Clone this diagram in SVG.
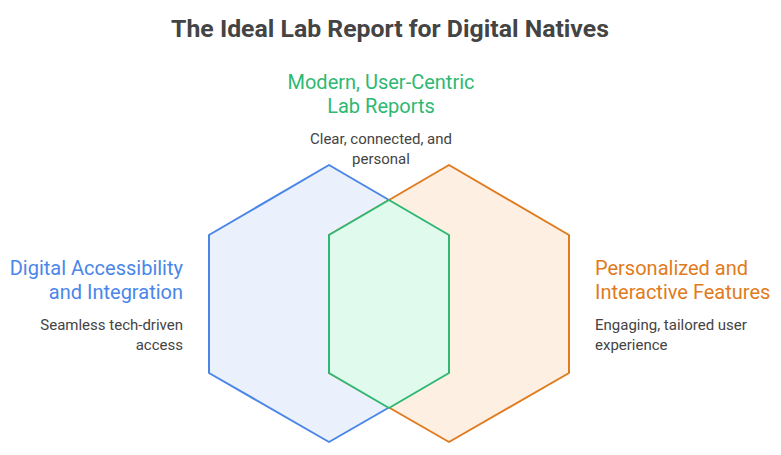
<svg xmlns="http://www.w3.org/2000/svg" width="781" height="455" viewBox="0 0 781 455">
<style>
text{font-family:Roboto,"Liberation Sans",sans-serif}
.t{font-size:24.8px;font-weight:bold;fill:#444}
.h{font-size:20px}
.d{font-size:15px;fill:#444}
.hex{stroke-width:2;stroke-linejoin:round}
</style>
<rect width="781" height="455" fill="#fff"/>
<text class="t" x="390" y="37" text-anchor="middle">The Ideal Lab Report for Digital Natives</text>
<g id="left">
<polygon class="hex" points="329,165 449,235 449,373 329,442 209,373 209,235" fill="#ebf1fc" stroke="#4a86e8"/>
<text class="h" x="183" y="275" text-anchor="end" fill="#4a86e8">Digital Accessibility</text>
<text class="h" x="183" y="299" text-anchor="end" fill="#4a86e8">and Integration</text>
<text class="d" x="183" y="330" text-anchor="end">Seamless tech-driven</text>
<text class="d" x="183" y="350" text-anchor="end">access</text>
</g>
<g id="right">
<polygon class="hex" points="449,165 569,235 569,373 449,442 329,373 329,235" fill="#fdf0e3" stroke="#e07b20"/>
<text class="h" x="595" y="275" fill="#e07b20">Personalized and</text>
<text class="h" x="595" y="299" fill="#e07b20">Interactive Features</text>
<text class="d" x="595" y="330">Engaging, tailored user</text>
<text class="d" x="595" y="350">experience</text>
</g>
<g id="center">
<polygon class="hex" points="389,200 449,235 449,373 389,408 329,373 329,235" fill="#e0fbee" stroke="#2eb872"/>
<text class="h" x="381" y="89" text-anchor="middle" fill="#2eb872">Modern, User-Centric</text>
<text class="h" x="381" y="113" text-anchor="middle" fill="#2eb872">Lab Reports</text>
<text class="d" x="381" y="144" text-anchor="middle">Clear, connected, and</text>
<text class="d" x="381" y="164" text-anchor="middle">personal</text>
</g>
<g id="connectors"/>
</svg>
